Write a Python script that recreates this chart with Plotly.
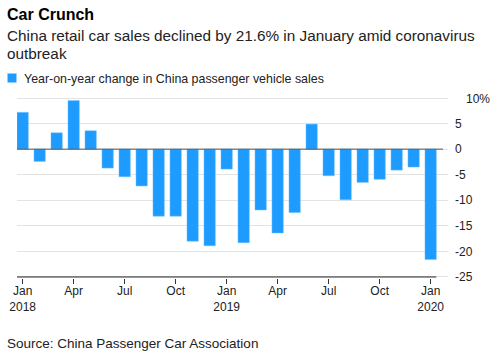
import plotly.graph_objects as go

# ---- data ----
months = list(range(25))  # Jan 2018 .. Jan 2020
month_labels = ["Jan 2018", "Feb 2018", "Mar 2018", "Apr 2018", "May 2018", "Jun 2018",
                "Jul 2018", "Aug 2018", "Sep 2018", "Oct 2018", "Nov 2018", "Dec 2018",
                "Jan 2019", "Feb 2019", "Mar 2019", "Apr 2019", "May 2019", "Jun 2019",
                "Jul 2019", "Aug 2019", "Sep 2019", "Oct 2019", "Nov 2019", "Dec 2019",
                "Jan 2020"]
yoy_change = [7.2, -2.4, 3.2, 9.5, 3.6, -3.7, -5.4, -7.2, -13.1, -13.1, -18.0, -18.9,
              -3.9, -18.3, -11.9, -16.4, -12.4, 4.9, -5.2, -9.9, -6.5, -5.9, -4.1, -3.5,
              -21.6]
x_tick_vals = [0, 3, 6, 9, 12, 15, 18, 21, 24]
x_tick_text = ["Jan<br>2018", "Apr", "Jul", "Oct", "Jan<br>2019", "Apr", "Jul", "Oct",
               "Jan<br>2020"]
y_tick_vals = [10, 5, 0, -5, -10, -15, -20, -25]
y_tick_text = ["", "5", "0", "-5", "-10", "-15", "-20", "-25"]
top_tick_label = "10%"
series_name = "Year-on-year change in China passenger vehicle sales"

BLUE = "#1e9bff"
FONT = "Liberation Sans, Arial, Helvetica, sans-serif"

W, H = 497, 359
ML, MR, MT, MB = 17, 49, 97, 81
PW, PH = W - ML - MR, H - MT - MB
MONTH_PX = 17.0


def xp(px):
    """screen px -> paper x"""
    return (px - ML) / PW


def yp(py):
    """screen px -> paper y"""
    return (H - MB - py) / PH


fig = go.Figure()
fig.add_trace(go.Bar(
    x=months, y=yoy_change, name=series_name, width=0.667,
    marker=dict(color=BLUE, line=dict(color="#6cc0ff", width=0.5)),
    showlegend=False,
))

x_lo = -0.333
fig.update_layout(
    width=W, height=H,
    margin=dict(l=ML, r=MR, t=MT, b=MB, pad=0),
    paper_bgcolor="white", plot_bgcolor="white",
    font=dict(family=FONT, size=12, color="#222"),
    xaxis=dict(
        range=[x_lo, x_lo + PW / MONTH_PX],
        tickmode="array", tickvals=x_tick_vals, ticktext=x_tick_text,
        ticks="outside", ticklen=5, tickwidth=1, tickcolor="#333",
        ticklabelstandoff=-3,
        showgrid=False, zeroline=False, showline=False, automargin=False,
        tickfont=dict(size=12, color="#222"),
    ),
    yaxis=dict(
        side="right", range=[-25.2, 10.2],
        tickmode="array", tickvals=y_tick_vals, ticktext=y_tick_text,
        ticks="", ticklabelstandoff=6, automargin=False,
        showgrid=True, gridcolor="#e3e3e3", gridwidth=1,
        zeroline=False, showline=False,
        tickfont=dict(size=12, color="#222"),
    ),
)

shapes = [
    # zero line
    dict(type="line", xref="x", yref="y", x0=x_lo, x1=x_lo + (443 - 17) / MONTH_PX,
         y0=0, y1=0, line=dict(color="#555", width=1), layer="above"),
    # bottom axis line
    dict(type="line", xref="x", yref="y", x0=x_lo, x1=months[-1] + 0.333, y0=-25, y1=-25,
         line=dict(color="#222", width=1), layer="above"),
    # legend square
    dict(type="rect", xref="paper", yref="paper", x0=xp(7.5), x1=xp(16.5),
         y0=yp(82.5), y1=yp(73.5), fillcolor=BLUE, line=dict(width=0)),
]

annotations = [
    dict(text="<b>Car Crunch</b>", x=xp(6), y=yp(14.5), xanchor="left", yanchor="middle",
         font=dict(size=16, color="#000")),
    dict(text="China retail car sales declined by 21.6% in January amid coronavirus",
         x=xp(6), y=yp(35), xanchor="left", yanchor="middle", font=dict(size=15.3, color="#222")),
    dict(text="outbreak", x=xp(6), y=yp(53.3), xanchor="left", yanchor="middle",
         font=dict(size=15.3, color="#222")),
    dict(text=series_name, x=xp(23), y=yp(78.5), xanchor="left", yanchor="middle",
         font=dict(size=12.4, color="#222")),
    dict(text=top_tick_label, x=xp(491), y=yp(99), xanchor="right", yanchor="middle",
         font=dict(size=12, color="#222")),
    dict(text="Source: China Passenger Car Association", x=xp(6), y=yp(343.8),
         xanchor="left", yanchor="middle", font=dict(size=13.5, color="#222")),
]
for a in annotations:
    a["xref"] = "paper"
    a["yref"] = "paper"
    a["showarrow"] = False
    a["borderpad"] = 0

fig.update_layout(shapes=shapes, annotations=annotations)
# remove the browser's default 8px body margin so the figure fills the window
fig.write_html("out.html", config={"displayModeBar": False},
               post_script="document.body.style.margin='0px';")
